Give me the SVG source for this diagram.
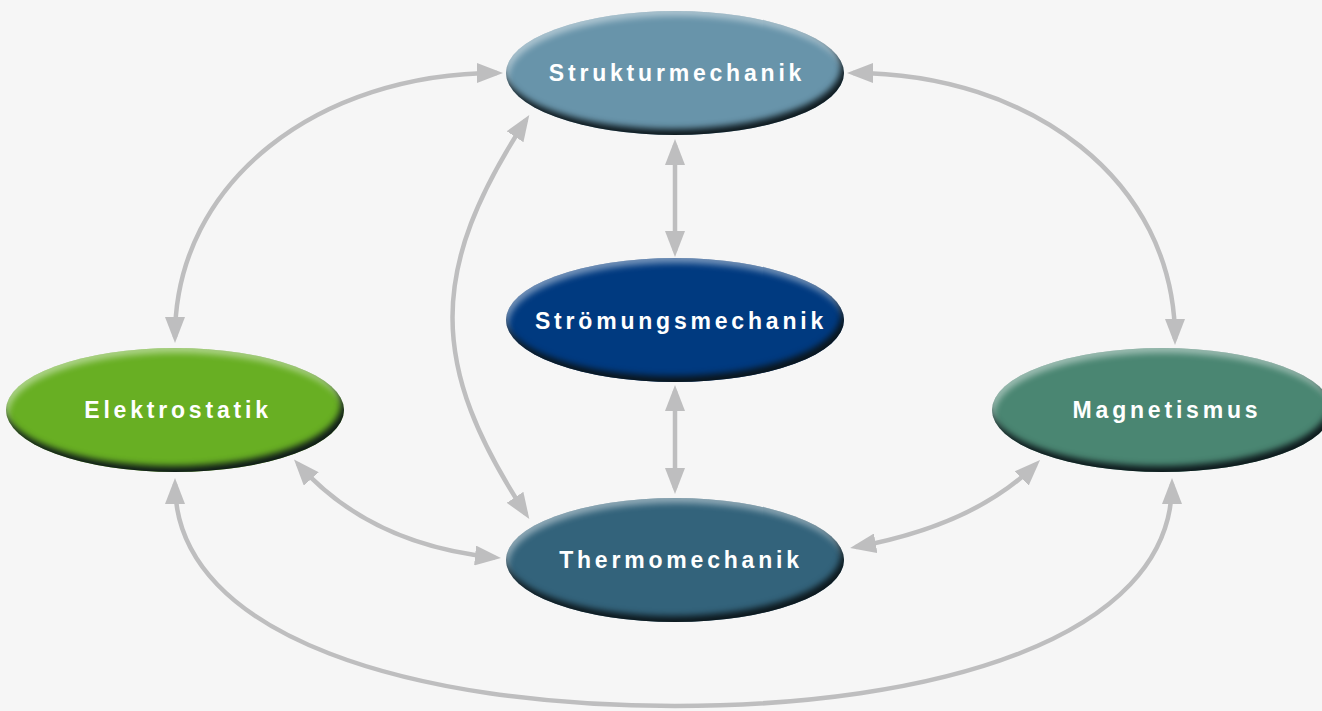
<svg xmlns="http://www.w3.org/2000/svg" width="1322" height="711" viewBox="0 0 1322 711">
<defs>
<style>
.conn path{fill:none;stroke:#BEBEBF;stroke-width:4.5;marker-start:url(#ah);marker-end:url(#ah)}
.node ellipse{filter:url(#bevel)}
.node text{font-family:"Liberation Sans",Arial,sans-serif;font-weight:bold;font-size:23px;fill:#FFFFFF;letter-spacing:3.8px;text-anchor:middle}
</style>
<marker id="ah" viewBox="0 0 26 20" refX="20" refY="10" markerWidth="26" markerHeight="20" markerUnits="userSpaceOnUse" orient="auto-start-reverse">
<path d="M0,0 L26,10 L0,20 z" fill="#BEBEBF"/>
</marker>
<filter id="bevel" x="-5%" y="-10%" width="110%" height="120%" color-interpolation-filters="sRGB">
<feGaussianBlur in="SourceAlpha" stdDeviation="3" result="b"/>
<feOffset in="b" dx="-3" dy="-6" result="o1"/>
<feComposite in="SourceAlpha" in2="o1" operator="out" result="edgeBR"/>
<feFlood flood-color="#0a1418" flood-opacity="0.95"/>
<feComposite in2="edgeBR" operator="in" result="dark"/>
<feOffset in="b" dx="2" dy="5" result="o2"/>
<feComposite in="SourceAlpha" in2="o2" operator="out" result="edgeTL"/>
<feFlood flood-color="#ffffff" flood-opacity="0.45"/>
<feComposite in2="edgeTL" operator="in" result="light"/>
<feMerge><feMergeNode in="SourceGraphic"/><feMergeNode in="light"/><feMergeNode in="dark"/></feMerge>
</filter>
</defs>
<rect width="1322" height="711" fill="#F6F6F6"/>
<g id="connectors" class="conn">
<path d="M175,337 C175,180 320,73 497,73"/>
<path d="M853,73 C1030,73 1175,180 1175,339"/>
<path d="M526,120 C428,270 428,365 526,514"/>
<path d="M675,145 L675,251"/>
<path d="M675,391 L675,488"/>
<path d="M298,464 Q370,545 495,557.5"/>
<path d="M856,547 Q975,525 1035.8,464.3"/>
<path d="M175,484 C175,640 420,706 675,706 C930,706 1172,640 1172,484"/>
</g>
<g id="strukturmechanik" class="node">
<ellipse cx="675" cy="73" rx="169" ry="62" fill="#6894AA"/>
<text x="677" y="81">Strukturmechanik</text>
</g>
<g id="stroemungsmechanik" class="node">
<ellipse cx="675" cy="320" rx="169" ry="62" fill="#003A80"/>
<text x="681" y="329">Strömungsmechanik</text>
</g>
<g id="thermomechanik" class="node">
<ellipse cx="675" cy="560" rx="169" ry="62" fill="#33637B"/>
<text x="681" y="568">Thermomechanik</text>
</g>
<g id="elektrostatik" class="node">
<ellipse cx="175" cy="410" rx="169" ry="62" fill="#68AF23"/>
<text x="178" y="418">Elektrostatik</text>
</g>
<g id="magnetismus" class="node">
<ellipse cx="1162" cy="410" rx="170" ry="62" fill="#4A8672"/>
<text x="1167" y="418">Magnetismus</text>
</g>
</svg>
